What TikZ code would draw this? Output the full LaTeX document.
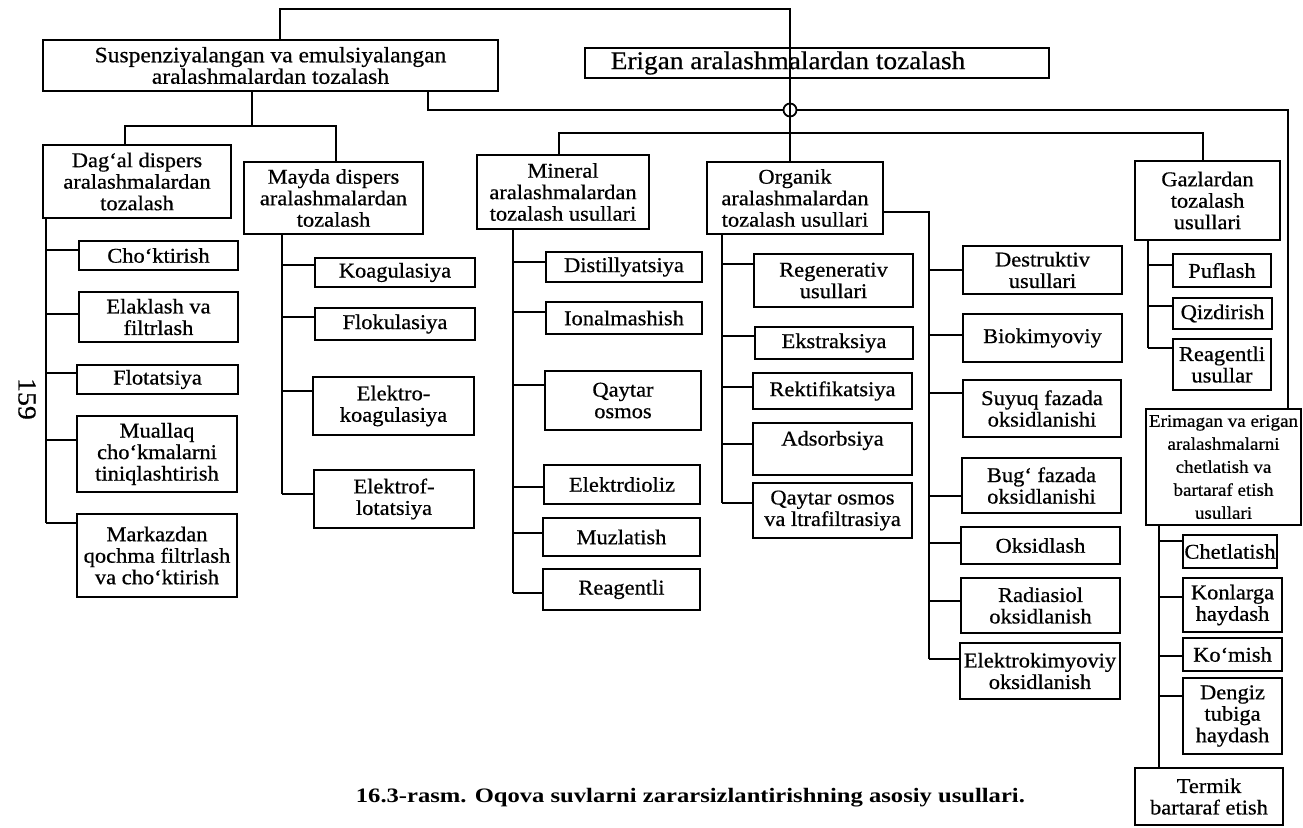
\documentclass[tikz,border=0pt]{standalone}
\usepackage{fontspec}
\setmainfont{Liberation Serif}
\newfontfamily\bxf[FakeStretch=1.07,FakeBold=0.6]{Liberation Serif}
\newfontfamily\capf[FakeStretch=1.2]{Liberation Serif}
\newcommand\bxn[7][]{\node[boxs,#1,minimum width=#5pt-#3pt,minimum height=#6pt-#4pt] (#2) at ({(#3+#5)/2},{(#4+#6)/2}) {#7};}
\newcommand\cn[3]{\draw ([yshift=#3]#2.west) -- ([yshift=#3]#2.west -| #1);}
\begin{document}
\begin{tikzpicture}[x=1pt,y=-1pt,line width=1.8pt,
  boxs/.style={draw,line width=1.8pt,inner sep=0pt,align=center,font={\bxf\fontsize{21}{21.5}\selectfont}}]
\fill[white] (0,0) rectangle (1303,827);
\useasboundingbox (0,0) rectangle (1303,827);

% top level
\bxn[font={\bxf\fontsize{22}{21.5}\selectfont}]{susp}{43}{40}{498}{91}{Suspenziyalangan va emulsiyalangan\\aralashmalardan tozalash}
\bxn[font={\bxf\fontsize{25.5}{26}\selectfont}]{erig}{585}{48}{1049}{78}{\hspace*{-58pt}Erigan aralashmalardan tozalash}

% second level
\bxn{dag}{43}{145}{231}{218}{Dag‘al dispers\\aralashmalardan\\tozalash}
\bxn{may}{244}{162}{423}{234}{Mayda dispers\\aralashmalardan\\tozalash}
\bxn{min}{477}{155}{649}{229}{Mineral\\aralashmalardan\\tozalash usullari}
\bxn{org}{707}{162}{883}{234}{Organik\\aralashmalardan\\tozalash usullari}
\bxn{gaz}{1135}{161}{1280}{240}{Gazlardan\\tozalash\\usullari}
\bxn[font={\bxf\fontsize{17.8}{23}\selectfont}]{erim}{1146}{409}{1301}{525}{Erimagan va erigan\\aralashmalarni\\chetlatish va\\bartaraf etish\\usullari}

% Dag'al children
\bxn{cho}{79}{241}{238}{270}{Cho‘ktirish}
\bxn{ela}{79}{292}{238}{342}{Elaklash va\\filtrlash}
\bxn{flo}{77}{365}{238}{394}{Flotatsiya}
\bxn{mua}{77}{416}{237}{492}{Muallaq\\cho‘kmalarni\\tiniqlashtirish}
\bxn{mar}{77}{514}{237}{597}{Markazdan\\qochma filtrlash\\va cho‘ktirish}

% Mayda children
\bxn{koa}{315}{258}{475}{287}{Koagulasiya}
\bxn{flk}{315}{308}{475}{340}{Flokulasiya}
\bxn{ekoa}{313}{377}{474}{435}{Elektro-\\koagulasiya}
\bxn{eflo}{314}{470}{474}{528}{Elektrof-\\lotatsiya}

% Mineral children
\bxn{dis}{546}{252}{702}{282}{Distillyatsiya}
\bxn{ion}{546}{302}{702}{334}{Ionalmashish}
\bxn{qay}{545}{371}{701}{430}{Qaytar\\osmos}
\bxn{ekd}{544}{465}{700}{504}{Elektrdioliz}
\bxn{muz}{543}{518}{700}{556}{Muzlatish}
\bxn{rea}{543}{569}{700}{610}{Reagentli}

% Organik children (left)
\bxn{reg}{754}{254}{913}{307}{Regenerativ\\usullari}
\bxn{eks}{755}{327}{913}{359}{Ekstraksiya}
\bxn{rek}{753}{373}{912}{409}{Rektifikatsiya}
\bxn{ads}{753}{423}{912}{475}{Adsorbsiya\\\mbox{}}
\bxn{qoz}{753}{483}{912}{538}{Qaytar osmos\\va ltrafiltrasiya}

% Organik children (right)
\bxn{des}{963}{246}{1122}{294}{Destruktiv\\usullari}
\bxn{bio}{963}{314}{1122}{362}{Biokimyoviy}
\bxn{suy}{963}{380}{1121}{437}{Suyuq fazada\\oksidlanishi}
\bxn{bug}{962}{458}{1121}{513}{Bug‘ fazada\\oksidlanishi}
\bxn{oks}{961}{527}{1120}{564}{Oksidlash}
\bxn{rad}{961}{578}{1120}{633}{Radiasiol\\oksidlanish}
\bxn{elk}{960}{643}{1120}{699}{Elektrokimyoviy\\oksidlanish}

% Gazlardan children
\bxn{puf}{1173}{254}{1271}{287}{Puflash}
\bxn{qiz}{1173}{298}{1272}{329}{Qizdirish}
\bxn{reu}{1173}{339}{1271}{390}{Reagentli\\usullar}

% Erimagan children
\bxn{che}{1183}{535}{1277}{568}{Chetlatish}
\bxn{kon}{1183}{578}{1282}{632}{Konlarga\\haydash}
\bxn{kom}{1183}{638}{1282}{671}{Ko‘mish}
\bxn{den}{1183}{678}{1282}{754}{Dengiz\\tubiga\\haydash}
\bxn{ter}{1135}{768}{1283}{825}{Termik\\bartaraf etish}

% trunk coordinates
\coordinate (dagT) at (46,0);
\coordinate (mayT) at (282,0);
\coordinate (minT) at (513,0);
\coordinate (orgT) at (722,0);
\coordinate (orR) at (929,0);
\coordinate (gazT) at (1148,0);
\coordinate (erT) at (1159,0);

% upper connectors
\coordinate (topL) at (280,9);
\coordinate (topR) at (790,9);
\node[circle,draw,line width=1.8pt,minimum size=13pt,inner sep=0pt] (hop) at (790,110) {};
\draw (susp.north -| topL) -- (topL) -- (topR) -- (topR |- org.north);

\coordinate (sdn) at (252,126);
\coordinate (dagN) at (125,126);
\coordinate (mayN) at (336,126);
\draw (susp.south -| sdn) -- (sdn);
\draw (dag.north -| dagN) -- (dagN) -- (mayN) -- (may.north -| mayN);

\coordinate (eL) at (428,110);
\coordinate (eR) at (1288,110);
\draw (susp.south -| eL) -- (eL) -- (hop.west);
\draw (hop.east) -- (eR) -- (erim.north -| eR);

\coordinate (busL) at (559,133);
\coordinate (busR) at (1203,133);
\draw (min.north -| busL) -- (busL) -- (busR) -- (gaz.north -| busR);

% Dag'al
\draw (dag.south -| dagT) -- ([yshift=32.5pt]mar.west -| dagT);
\cn{dagT}{cho}{5.5pt}\cn{dagT}{ela}{3pt}\cn{dagT}{flo}{6.5pt}\cn{dagT}{mua}{14pt}\cn{dagT}{mar}{32.5pt}
% Mayda
\draw (may.south -| mayT) -- ([yshift=5pt]eflo.west -| mayT);
\cn{mayT}{koa}{7.5pt}\cn{mayT}{flk}{7pt}\cn{mayT}{ekoa}{15pt}\cn{mayT}{eflo}{5pt}
% Mineral
\draw (min.south -| minT) -- ([yshift=-3.5pt]rea.west -| minT);
\cn{minT}{dis}{5pt}\cn{minT}{ion}{6pt}\cn{minT}{qay}{15.5pt}\cn{minT}{ekd}{-2.5pt}\cn{minT}{muz}{4pt}\cn{minT}{rea}{-3.5pt}
% Organik left
\draw (org.south -| orgT) -- ([yshift=7.5pt]qoz.west -| orgT);
\cn{orgT}{reg}{16.5pt}\cn{orgT}{eks}{7pt}\cn{orgT}{rek}{4pt}\cn{orgT}{ads}{5pt}\cn{orgT}{qoz}{7.5pt}
% Organik right
\draw ([yshift=-14pt]org.east) -- ([yshift=-14pt]org.east -| orR) -- ([yshift=12pt]elk.west -| orR);
\cn{orR}{des}{0pt}\cn{orR}{bio}{3pt}\cn{orR}{suy}{15.5pt}\cn{orR}{bug}{-10.5pt}\cn{orR}{oks}{2.5pt}\cn{orR}{rad}{4.5pt}\cn{orR}{elk}{12pt}
% Gazlardan
\draw (gaz.south -| gazT) -- ([yshift=16.5pt]reu.west -| gazT);
\cn{gazT}{puf}{5.5pt}\cn{gazT}{qiz}{7.5pt}\cn{gazT}{reu}{16.5pt}
% Erimagan
\draw (erim.south -| erT) -- (ter.north -| erT);
\cn{erT}{che}{10.5pt}\cn{erT}{kon}{8pt}\cn{erT}{kom}{-1.5pt}\cn{erT}{den}{20pt}

% page number and caption
\node[rotate=-90,inner sep=0pt,font={\bxf\fontsize{26}{26}\selectfont}] (pg) at (27,399) {159};
\node[anchor=base west,inner sep=0pt,font={\capf\bfseries\fontsize{20.5}{24}\selectfont}] (cap) at (355,802) {16.3-rasm. Oqova suvlarni zararsizlantirishning asosiy usullari.};
\end{tikzpicture}
\end{document}
